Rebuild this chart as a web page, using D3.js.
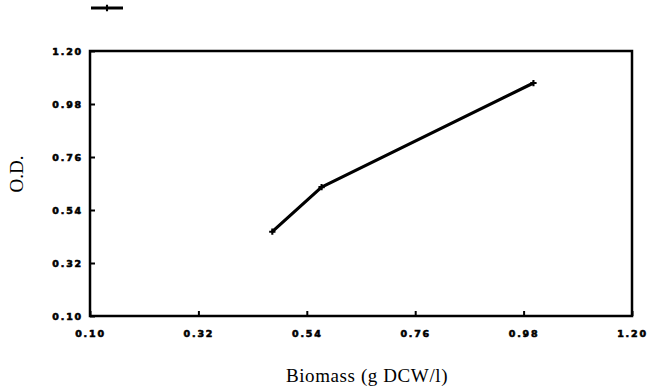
<!DOCTYPE html>
<html lang="en">
<head>
    <meta charset="UTF-8">
    <title>O.D. vs Biomass</title>
    <style>
        body {
            margin: 0;
            background: #fff;
        }

        .tick text {
            font-family: 'DejaVu Sans', sans-serif;
            font-weight: bold;
            font-size: 9.5px;
            letter-spacing: 1.8px;
            fill: #000;
            stroke: #000;
            stroke-width: 0.6px;
        }

        .axis-title {
            font-family: 'Liberation Serif', 'Times New Roman', serif;
            font-size: 19px;
            fill: #000;
        }
    </style>
</head>
<body>
    <div id="plot"></div>

    <script src="https://d3js.org/d3.v7.min.js"></script>
    <script>
        // data
        const biomass = [0.47, 0.57, 1.00];
        const od = [0.45, 0.635, 1.067];
        const tickValues = [0.10, 0.32, 0.54, 0.76, 0.98, 1.20];

        const width = 648;
        const height = 390;
        const margin = { top: 51, right: 16, bottom: 74, left: 90 };
        const innerW = width - margin.left - margin.right;
        const innerH = height - margin.top - margin.bottom;

        const xScale = d3.scaleLinear()
            .domain([0.10, 1.20])
            .range([0, innerW]);

        const yScale = d3.scaleLinear()
            .domain([0.10, 1.20])
            .range([innerH, 0]);

        const svg = d3.select('#plot')
            .append('svg')
            .attr('width', width)
            .attr('height', height);

        const g = svg.append('g')
            .attr('transform', `translate(${margin.left}, ${margin.top})`);

        // inward ticks, labels pushed outside
        const xAxis = d3.axisBottom(xScale)
            .tickValues(tickValues)
            .tickFormat(d3.format('.2f'))
            .tickSizeInner(-5)
            .tickSizeOuter(0)
            .tickPadding(14);

        const yAxis = d3.axisLeft(yScale)
            .tickValues(tickValues)
            .tickFormat(d3.format('.2f'))
            .tickSizeInner(-5)
            .tickSizeOuter(0)
            .tickPadding(7);

        g.append('g')
            .attr('class', 'x axis')
            .attr('transform', `translate(0, ${innerH})`)
            .call(xAxis)
            .select('.domain').remove();

        g.append('g')
            .attr('class', 'y axis')
            .call(yAxis)
            .select('.domain').remove();

        g.selectAll('.tick line')
            .attr('stroke', '#000')
            .attr('stroke-width', 2);

        // frame
        g.append('rect')
            .attr('x', 0)
            .attr('y', 0)
            .attr('width', innerW)
            .attr('height', innerH)
            .attr('fill', 'none')
            .attr('stroke', '#000')
            .attr('stroke-width', 2.5);

        const points = biomass.map((b, i) => [b, od[i]]);

        const line = d3.line()
            .x(d => xScale(d[0]))
            .y(d => yScale(d[1]));

        g.append('path')
            .datum(points)
            .attr('fill', 'none')
            .attr('stroke', '#000')
            .attr('stroke-width', 3.2)
            .attr('stroke-linejoin', 'round')
            .attr('d', line);

        // small plus markers
        const plus = d3.symbol().type(d3.symbolCross).size(22);
        g.selectAll('.marker')
            .data(points)
            .enter()
            .append('path')
            .attr('class', 'marker')
            .attr('transform', d => `translate(${xScale(d[0])}, ${yScale(d[1])})`)
            .attr('d', plus)
            .attr('fill', '#000');

        // legend sample (no text in the original)
        const legend = svg.append('g')
            .attr('transform', 'translate(91, 8)');
        legend.append('line')
            .attr('x1', 0).attr('x2', 32)
            .attr('stroke', '#000')
            .attr('stroke-width', 3);
        legend.append('path')
            .attr('transform', 'translate(16, 0)')
            .attr('d', plus)
            .attr('fill', '#000');

        // axis titles
        svg.append('text')
            .attr('class', 'axis-title')
            .attr('x', 367)
            .attr('y', 382)
            .attr('text-anchor', 'middle')
            .attr('letter-spacing', '0.6px')
            .text('Biomass (g DCW/l)');

        svg.append('text')
            .attr('class', 'axis-title')
            .attr('transform', 'translate(23, 174) rotate(-90)')
            .attr('text-anchor', 'middle')
            .text('O.D.');
    </script>
</body>
</html>
